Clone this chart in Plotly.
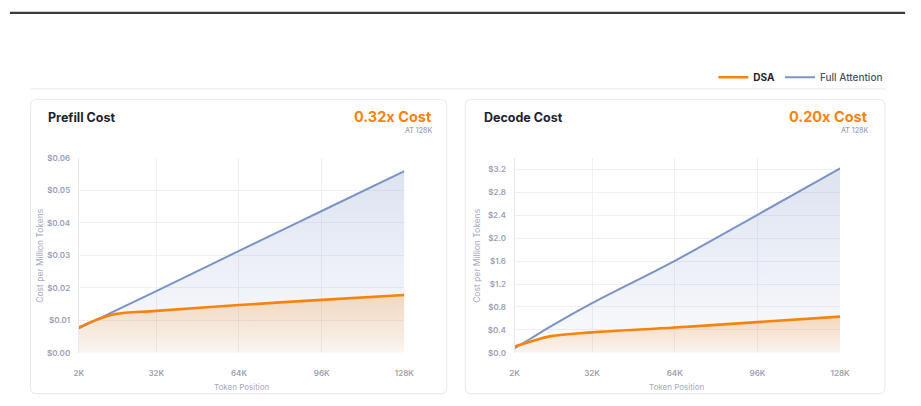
import plotly.graph_objects as go

# ---------------- data ----------------
token_k = [2, 8, 16, 32, 64, 96, 128]
tick_vals = [2, 32, 64, 96, 128]
tick_text = ["2K", "32K", "64K", "96K", "128K"]

prefill_full = [0.0075, 0.0098, 0.0129, 0.0190, 0.0314, 0.0437, 0.0560]
prefill_dsa = [0.0078, 0.0099, 0.0119, 0.0129, 0.0147, 0.0163, 0.0178]

decode_full = [0.08, 0.24, 0.46, 0.865, 1.605, 2.41, 3.22]
decode_dsa = [0.11, 0.19, 0.29, 0.355, 0.44, 0.535, 0.63]

prefill_ticks = [0, 0.01, 0.02, 0.03, 0.04, 0.05, 0.06]
decode_ticks = [0, 0.4, 0.8, 1.2, 1.6, 2.0, 2.4, 2.8, 3.2]

# ---------------- style ----------------
W, H = 921, 406
ORANGE = "#F7830F"
BLUE = "#7B93C6"
GRID = "#EEF0F5"
TICK = "#9AA1B5"
FONT = "Inter"
SMOOTH = 1.0


def px_x(v):
    return v / W


def px_y(v):
    return 1 - v / H


fig = go.Figure()

panels = [
    ("x", "y", prefill_full, prefill_dsa),
    ("x2", "y2", decode_full, decode_dsa),
]
for i, (xa, ya, full, dsa) in enumerate(panels):
    fig.add_trace(go.Scatter(
        x=token_k, y=full, xaxis=xa, yaxis=ya, mode="lines",
        line=dict(width=0, shape="spline", smoothing=SMOOTH), fill="tozeroy",
        fillgradient=dict(type="vertical", start=0, stop=max(full),
                          colorscale=[[0, "rgba(123,147,198,0.03)"], [1, "rgba(123,147,198,0.26)"]]),
        showlegend=False, hoverinfo="skip"))
    fig.add_trace(go.Scatter(
        x=token_k, y=dsa, xaxis=xa, yaxis=ya, mode="lines",
        line=dict(width=0, shape="spline", smoothing=SMOOTH), fill="tozeroy",
        fillgradient=dict(type="vertical", start=0, stop=max(dsa),
                          colorscale=[[0, "rgba(247,131,15,0.03)"], [1, "rgba(247,131,15,0.24)"]]),
        showlegend=False, hoverinfo="skip"))
    fig.add_trace(go.Scatter(
        x=token_k, y=full, xaxis=xa, yaxis=ya, mode="lines", name="Full Attention",
        line=dict(color=BLUE, width=2, shape="spline", smoothing=SMOOTH),
        showlegend=(i == 0), legendrank=2))
    fig.add_trace(go.Scatter(
        x=token_k, y=dsa, xaxis=xa, yaxis=ya, mode="lines",
        name="<b><span style='color:#1E2330'>DSA</span></b>",
        line=dict(color=ORANGE, width=2.6, shape="spline", smoothing=SMOOTH),
        showlegend=(i == 0), legendrank=1))

x_common = dict(
    range=[2, 128], tickvals=tick_vals, ticktext=tick_text,
    showgrid=True, gridcolor=GRID, gridwidth=1, zeroline=False,
    showline=False, ticks="", ticklabelstandoff=14,
    tickfont=dict(family=FONT, size=8, color=TICK, weight=600),
)
y_common = dict(
    showgrid=True, gridcolor=GRID, gridwidth=1, zeroline=False,
    showline=True, linecolor="#E6E8EF", linewidth=1, ticks="",
    ticklabelstandoff=6,
    tickfont=dict(family=FONT, size=8, color=TICK, weight=600),
)

yd = [px_y(356.5), px_y(157)]
fig.update_layout(
    xaxis=dict(domain=[px_x(75), px_x(406)], anchor="y", **x_common),
    yaxis=dict(domain=yd, anchor="x", range=[0, 0.06], tickvals=prefill_ticks,
               tickformat="$.2f", **y_common),
    xaxis2=dict(domain=[px_x(518), px_x(849)], anchor="y2", **x_common),
    yaxis2=dict(domain=yd, anchor="x2", range=[0, 3.4], tickvals=decode_ticks,
                tickformat="$.1f", **y_common),
)


def rrect(x0, y0, x1, y1, r):
    rx, ry = r / W, r / H
    X0, X1, Y0, Y1 = px_x(x0), px_x(x1), px_y(y0), px_y(y1)
    return (f"M {X0+rx},{Y0} L {X1-rx},{Y0} Q {X1},{Y0} {X1},{Y0-ry} "
            f"L {X1},{Y1+ry} Q {X1},{Y1} {X1-rx},{Y1} L {X0+rx},{Y1} "
            f"Q {X0},{Y1} {X0},{Y1+ry} L {X0},{Y0-ry} Q {X0},{Y0} {X0+rx},{Y0} Z")


shapes = [
    dict(type="line", xref="paper", yref="paper", x0=px_x(5), x1=px_x(915),
         y0=px_y(8), y1=px_y(8), line=dict(color="#3C3C3C", width=2.2), layer="below"),
    dict(type="line", xref="paper", yref="paper", x0=px_x(26), x1=px_x(895),
         y0=px_y(86), y1=px_y(86), line=dict(color="#E6E8EE", width=1), layer="below"),
    dict(type="path", xref="paper", yref="paper", path=rrect(26, 97, 449, 398.5, 6),
         line=dict(color="#E7E9EF", width=1), fillcolor="white", layer="below"),
    dict(type="path", xref="paper", yref="paper", path=rrect(468, 97, 894.5, 398.5, 6),
         line=dict(color="#E7E9EF", width=1), fillcolor="white", layer="below"),
]

cards = [
    ("Prefill Cost", "0.32x Cost", 42, 436, 35.7, 240.5),
    ("Decode Cost", "0.20x Cost", 485, 879, 479, 683.5),
]
annotations = []
for title, ratio, lx, rx, ytx, xtx in cards:
    annotations += [
        dict(text=title, x=px_x(lx), y=px_y(115), xref="paper", yref="paper",
             xanchor="left", yanchor="middle", showarrow=False,
             font=dict(family=FONT, size=12.5, color="#1E2330", weight=700)),
        dict(text=ratio, x=px_x(rx), y=px_y(114.5), xref="paper", yref="paper",
             xanchor="right", yanchor="middle", showarrow=False,
             font=dict(family=FONT, size=14.5, color=ORANGE, weight=700)),
        dict(text="AT 128K", x=px_x(rx), y=px_y(129), xref="paper", yref="paper",
             xanchor="right", yanchor="middle", showarrow=False,
             font=dict(family=FONT, size=7, color="#9AA0B2", weight=500)),
        dict(text="Cost per Million Tokens", x=px_x(ytx), y=px_y(257), xref="paper",
             yref="paper", xanchor="center", yanchor="middle", textangle=-90,
             showarrow=False, font=dict(family=FONT, size=8.5, color="#A4AABB")),
        dict(text="Token Position", x=px_x(xtx), y=px_y(392), xref="paper",
             yref="paper", xanchor="center", yanchor="middle", showarrow=False,
             font=dict(family=FONT, size=8, color="#A4AABB")),
    ]

fig.update_layout(
    width=W, height=H, autosize=False,
    margin=dict(l=0, r=0, t=0, b=0),
    paper_bgcolor="white", plot_bgcolor="rgba(0,0,0,0)",
    shapes=shapes, annotations=annotations,
    showlegend=True,
    legend=dict(orientation="h", xanchor="right", x=px_x(898), yanchor="middle",
                y=px_y(74), font=dict(family=FONT, size=10, color="#4B5263", weight=500),
                itemwidth=30, bgcolor="rgba(0,0,0,0)", tracegroupgap=0),
    font=dict(family=FONT),
)

fig.write_html("out.html")
